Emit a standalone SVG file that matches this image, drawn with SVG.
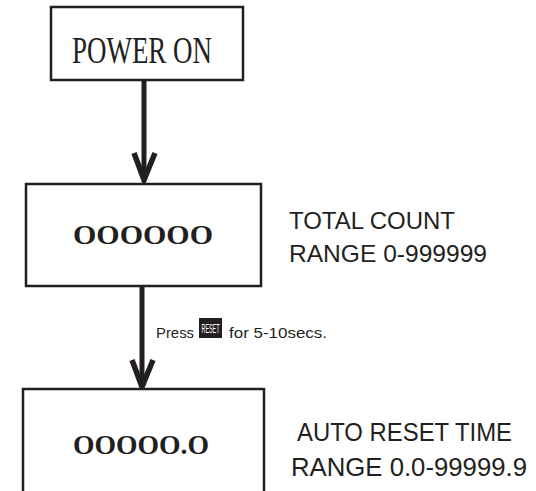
<svg xmlns="http://www.w3.org/2000/svg" width="536" height="491" viewBox="0 0 536 491">
<style>
.box{fill:#fff;stroke:#231f20;stroke-width:2.5}
.shaft{stroke:#231f20;stroke-width:5;fill:none}
.head{stroke:#231f20;stroke-width:5.5;fill:none;stroke-linejoin:miter;stroke-miterlimit:10}
.serif{font-family:"Liberation Serif","Times New Roman",serif;fill:#231f20}
.sans{font-family:"Liberation Sans",Arial,sans-serif;fill:#231f20}
</style>
<rect width="536" height="491" fill="#fff"/>
<g id="connectors">
<line class="shaft" x1="144" y1="80" x2="144" y2="180"/>
<polyline class="head" points="134,153 144,180 155,153"/>
<line class="shaft" x1="142" y1="286" x2="142" y2="387"/>
<polyline class="head" points="132,360 142,387 153,360"/>
<g id="press-label">
<text class="sans" x="156" y="338" font-size="14" textLength="38" lengthAdjust="spacingAndGlyphs">Press</text>
<rect x="199" y="318" width="23" height="20" fill="#231f20"/>
<text transform="translate(201.5,333) scale(1,1.6)" x="0" y="0" font-family="'Liberation Sans',Arial,sans-serif" font-size="8" fill="#fff" textLength="18" lengthAdjust="spacingAndGlyphs">RESET</text>
<text class="sans" x="229" y="338" font-size="14" textLength="98" lengthAdjust="spacingAndGlyphs">for 5-10secs.</text>
</g>
</g>
<g id="power-on">
<rect class="box" x="51" y="7" width="192" height="73"/>
<text class="serif" x="72" y="63" font-size="37" textLength="140" lengthAdjust="spacingAndGlyphs">POWER ON</text>
</g>
<g id="total-count">
<rect class="box" x="26" y="184" width="235" height="102"/>
<text class="serif" x="73" y="244" font-size="27" font-weight="bold" textLength="140" lengthAdjust="spacingAndGlyphs">OOOOOO</text>
<text class="sans" x="289" y="229" font-size="24" textLength="166" lengthAdjust="spacingAndGlyphs">TOTAL COUNT</text>
<text class="sans" x="289" y="262" font-size="24" textLength="198" lengthAdjust="spacingAndGlyphs">RANGE 0-999999</text>
</g>
<g id="auto-reset">
<rect class="box" x="23" y="389" width="241" height="110"/>
<text class="serif" x="73" y="454" font-size="27" font-weight="bold" textLength="136" lengthAdjust="spacingAndGlyphs">OOOOO.O</text>
<text class="sans" x="297" y="441" font-size="25" textLength="215" lengthAdjust="spacingAndGlyphs">AUTO RESET TIME</text>
<text class="sans" x="291" y="476" font-size="25" textLength="236" lengthAdjust="spacingAndGlyphs">RANGE 0.0-99999.9</text>
</g>
</svg>
